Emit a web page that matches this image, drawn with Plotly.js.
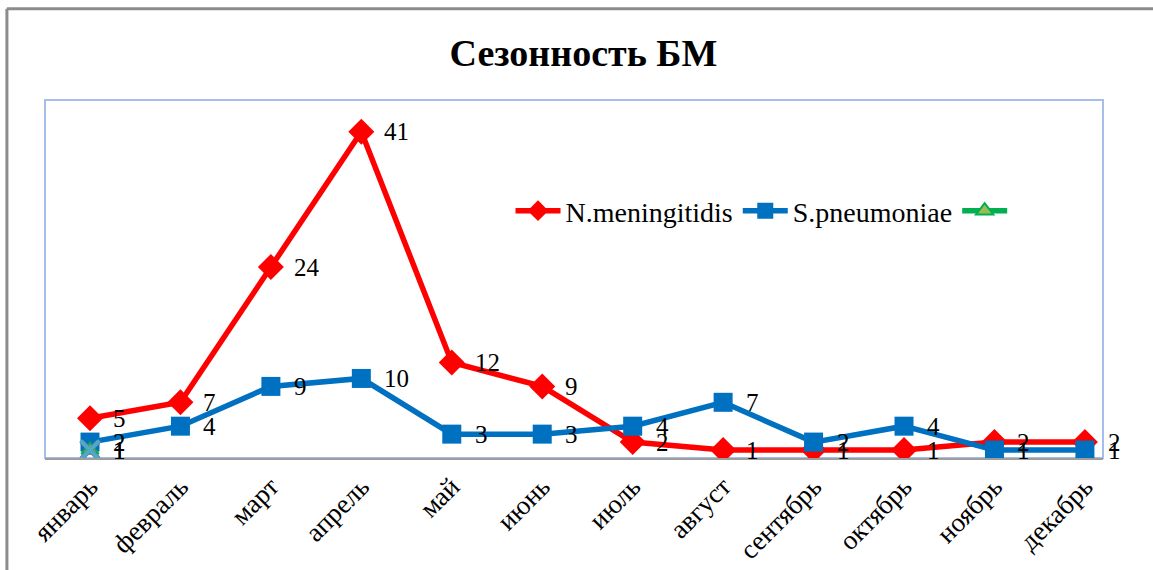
<!DOCTYPE html>
<html><head><meta charset="utf-8">
<script src="https://cdn.plot.ly/plotly-3.0.1.min.js"></script>
<style>html,body{margin:0;padding:0;background:#fff}#chart{width:1153px;height:570px}</style>
</head><body><div id="chart"></div>
<script>
const months = ['январь','февраль','март','апрель','май','июнь','июль','август','сентябрь','октябрь','ноябрь','декабрь'];
const nMeningitidis = [5,7,24,41,12,9,2,1,1,1,2,2];
const sPneumoniae = [2,4,9,10,3,3,4,7,2,4,1,1];
const series3 = [1,null,null,null,null,null,null,null,null,null,null,null];
const series4 = [1,null,null,null,null,null,null,null,null,null,null,null];
const series5 = [1,null,null,null,null,null,null,null,null,null,null,null];
const font = 'Liberation Serif';

const traces = [
  {x: months, y: nMeningitidis, name: 'N.meningitidis', type: 'scatter', mode: 'lines+markers',
   line: {color: '#FF0000', width: 5.5}, marker: {symbol: 'diamond', size: 20, color: '#FF0000'}},
  {x: months, y: sPneumoniae, name: 'S.pneumoniae', type: 'scatter', mode: 'lines+markers',
   line: {color: '#0070C0', width: 5.5}, marker: {symbol: 'square', size: 19, color: '#0070C0'}},
  {x: months, y: series3, name: ' ', type: 'scatter', mode: 'lines+markers',
   line: {color: '#00B050', width: 5.5}, marker: {symbol: 'triangle-up', size: 15, color: '#9BBB59', line: {color: '#00B050', width: 2}}},
  {x: months, y: series4, name: 's4', showlegend: false, type: 'scatter', mode: 'markers',
   marker: {symbol: 'x-thin', size: 17, line: {color: '#8064A2', width: 5}}},
  {x: months, y: series5, name: 's5', showlegend: false, type: 'scatter', mode: 'markers',
   marker: {symbol: 'x-thin', size: 19, line: {color: '#4BACC6', width: 4}}}
];

const annotations = [];
function addLabels(vals) {
  vals.forEach((v, i) => {
    if (v === null) return;
    annotations.push({x: months[i], y: v, text: String(v), showarrow: false, xanchor: 'left',
      yanchor: 'middle', xshift: 21, font: {family: font, size: 25, color: '#000'}});
  });
}
addLabels(nMeningitidis);
addLabels(sPneumoniae);
addLabels(series4);
addLabels(series5);

const layout = {
  width: 1153, height: 570,
  margin: {l: 45, r: 50, t: 100, b: 112},
  paper_bgcolor: '#fff', plot_bgcolor: '#fff',
  title: {text: '<b>Сезонность БМ</b>', x: 0.506, xanchor: 'center', y: 0.908, yanchor: 'middle',
    font: {family: font, size: 38, color: '#000'}},
  xaxis: {type: 'category', range: [-0.4975, 11.2], showgrid: false, zeroline: false,
    showline: true, linecolor: '#9D9D9D', linewidth: 2, ticks: '', tickangle: -45,
    tickfont: {family: font, size: 27, color: '#000'}},
  yaxis: {range: [0, 45], showgrid: false, zeroline: false, showline: false, showticklabels: false, ticks: ''},
  showlegend: true,
  legend: {orientation: 'h', x: 0.44, xanchor: 'left', y: 0.69, yanchor: 'middle', itemwidth: 45,
    font: {family: font, size: 28, color: '#000'}, bgcolor: 'rgba(0,0,0,0)'},
  annotations: annotations,
  shapes: [
    {type: 'rect', xref: 'paper', yref: 'paper', x0: 0, x1: 1, y0: 0, y1: 1,
     line: {color: '#A6BFEA', width: 2}, layer: 'below'},
    {type: 'line', xref: 'paper', yref: 'paper', x0: -0.036, x1: -0.036, y0: -0.4, y1: 1.255,
     line: {color: '#8C8C8C', width: 3}},
    {type: 'line', xref: 'paper', yref: 'paper', x0: -0.036, x1: 1.06, y0: 1.255, y1: 1.255,
     line: {color: '#8C8C8C', width: 3}}
  ]
};
Plotly.newPlot('chart', traces, layout, {displayModeBar: false, staticPlot: true});
</script></body></html>
